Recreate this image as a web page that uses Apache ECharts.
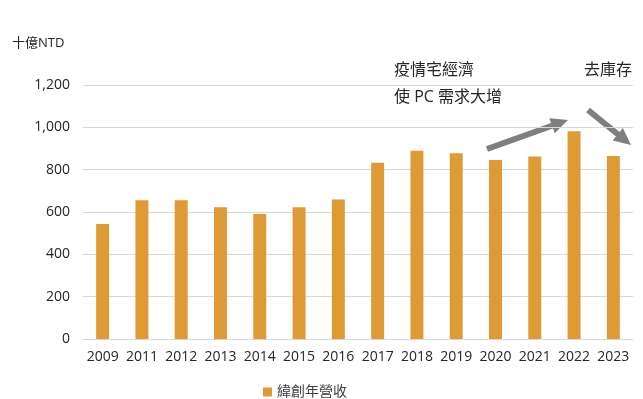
<!DOCTYPE html>
<html>
<head>
<meta charset="utf-8">
<script src="https://cdn.jsdelivr.net/npm/echarts@6/dist/echarts.min.js"></script>
<style>
html, body { margin: 0; padding: 0; background: #fff; }
#container { width: 643px; height: 399px; }
</style>
</head>
<body>
<div id="container"></div>
<script>
var years = ['2009', '2011', '2012', '2013', '2014', '2015', '2016', '2017', '2018', '2019', '2020', '2021', '2022', '2023'];
var revenue = [543, 656, 656, 623, 591, 623, 659, 833, 889, 878, 846, 862, 982, 865];
var yTicks = [0, 200, 400, 600, 800, 1000, 1200];

var FONT = '"Open Sans", "Noto Sans CJK TC", sans-serif';

// 箭頭 (起點, 終點)
function arrow(x1, y1, x2, y2) {
	var dx = x2 - x1, dy = y2 - y1;
	var len = Math.sqrt(dx * dx + dy * dy);
	var ux = dx / len, uy = dy / len;
	var px = -uy, py = ux;
	var headLen = 17, headW = 8, shaft = 3;
	var bx = x2 - ux * headLen, by = y2 - uy * headLen;
	return {
		type : 'polygon',
		shape : {
			points : [
				[ x1 + px * shaft, y1 + py * shaft ],
				[ bx + px * shaft, by + py * shaft ],
				[ bx + px * headW, by + py * headW ],
				[ x2, y2 ],
				[ bx - px * headW, by - py * headW ],
				[ bx - px * shaft, by - py * shaft ],
				[ x1 - px * shaft, y1 - py * shaft ]
			]
		},
		style : { fill : '#7f7f7f' }
	};
}

var dom = document.getElementById("container");
var myChart = echarts.init(dom);

var option = {
	animation : false,
	textStyle : { fontFamily : FONT },
	grid : {
		left : 83,
		right : 10,
		top : 85,
		bottom : 60,
		containLabel : false
	},
	legend : {
		top : 380,
		left : 258,
		itemWidth : 9,
		itemHeight : 9,
		itemGap : 6,
		icon : 'rect',
		textStyle : { fontSize : 14, color : '#404040', fontFamily : FONT },
		data : [ '緯創年營收' ]
	},
	xAxis : {
		type : 'category',
		data : years,
		axisLine : { lineStyle : { color : '#d9d9d9' } },
		axisTick : { show : false },
		axisLabel : { fontSize : 14, color : '#262626', margin : 11, interval : 0 }
	},
	yAxis : {
		type : 'value',
		min : yTicks[0],
		max : yTicks[yTicks.length - 1],
		interval : 200,
		axisLine : { show : false },
		axisTick : { show : false },
		axisLabel : {
			fontSize : 14,
			color : '#262626',
			margin : 13,
			formatter : function (v) { return v.toLocaleString('en-US'); }
		},
		splitLine : { lineStyle : { color : '#d9d9d9' } }
	},
	series : [ {
		name : '緯創年營收',
		type : 'bar',
		data : revenue,
		barWidth : '33%',
		itemStyle : { color : '#de9a34' }
	} ],
	graphic : [
		{
			type : 'text', left : 12, top : 37,
			style : { text : '十億NTD', fontSize : 13, fill : '#262626', fontFamily : FONT }
		},
		{
			type : 'text', left : 394, top : 62,
			style : { text : '疫情宅經濟', fontSize : 16, fill : '#262626', fontFamily : FONT }
		},
		{
			type : 'text', left : 394, top : 89,
			style : { text : '使 PC 需求大增', fontSize : 16, fill : '#262626', fontFamily : FONT }
		},
		{
			type : 'text', left : 584, top : 62,
			style : { text : '去庫存', fontSize : 16, fill : '#262626', fontFamily : FONT }
		},
		arrow(487, 149, 568, 120),
		arrow(588, 110, 631, 145)
	]
};

myChart.setOption(option, true);
</script>
</body>
</html>
